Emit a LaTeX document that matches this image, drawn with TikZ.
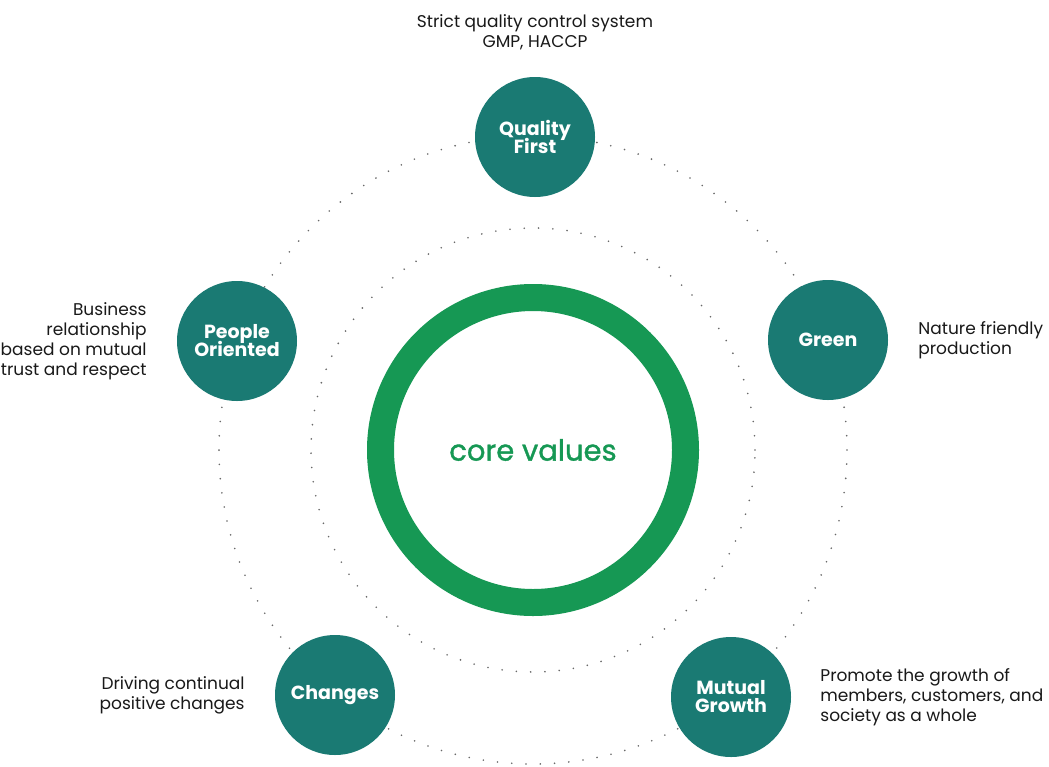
\documentclass[tikz,border=0pt]{standalone}
\usepackage{fontspec}
\setmainfont{Poppins}
\newfontfamily\popmedium{Poppins}[FakeBold=1.2]
\usetikzlibrary{positioning}

\definecolor{valueteal}{RGB}{26,122,115}
\definecolor{coregreen}{RGB}{22,152,84}
\definecolor{dotgray}{RGB}{105,105,105}
\definecolor{textdark}{RGB}{25,25,25}
\newcommand\valuefont{\fontsize{19}{18}\selectfont\bfseries\lineskiplimit=-20pt\relax}

\begin{document}
\begin{tikzpicture}[x=1pt, y=-1pt,
  value/.style={circle, fill=valueteal, minimum size=120pt, inner sep=0pt, text=white, align=center,
    font=\valuefont},
  desc/.style={text=textdark, inner sep=0pt, font=\fontsize{17}{20}\selectfont},
  orbit/.style={dotgray, line width=1.8pt, line cap=round, dash pattern=on 0pt off 14.3pt}]
  \path[fill=white] (0,0) rectangle (1049,766);
  \coordinate (c) at (533,450);

  % dotted orbits
  \draw[orbit] (c) circle[radius=314pt];
  \draw[orbit] (c) circle[radius=222pt];

  % core ring
  \node[circle, draw=coregreen, line width=27pt, minimum size=305pt, inner sep=0pt,
    text=coregreen, font=\fontsize{29}{30}\selectfont\popmedium] (core) at (c) {core values};

  % values
  \node[value] (quality) at (535,137) {Quality\\First};
  \node[value] (green)   at (828,340) {Green};
  \node[value] (mutual)  at (731,697) {Mutual\\Growth};
  \node[value] (changes) at (335,695) {Changes};
  \node[value] (people)  at (237,341) {People\\Oriented};

  % descriptions
  \node[desc, align=center, above=27pt of quality] (qualitytxt) {Strict quality control system\\GMP, HACCP};
  \node[desc, align=left, right=30pt of green] (greentxt) {Nature friendly\\production};
  \node[desc, align=left, right=29pt of mutual] (mutualtxt) {Promote the growth of\\members, customers, and\\society as a whole};
  \node[desc, align=right, left=30pt of changes] (changestxt) {Driving continual\\positive changes};
  \node[desc, align=right, left=30pt of people] (peopletxt) {Business\\relationship\\based on mutual\\trust and respect};
\end{tikzpicture}
\end{document}
